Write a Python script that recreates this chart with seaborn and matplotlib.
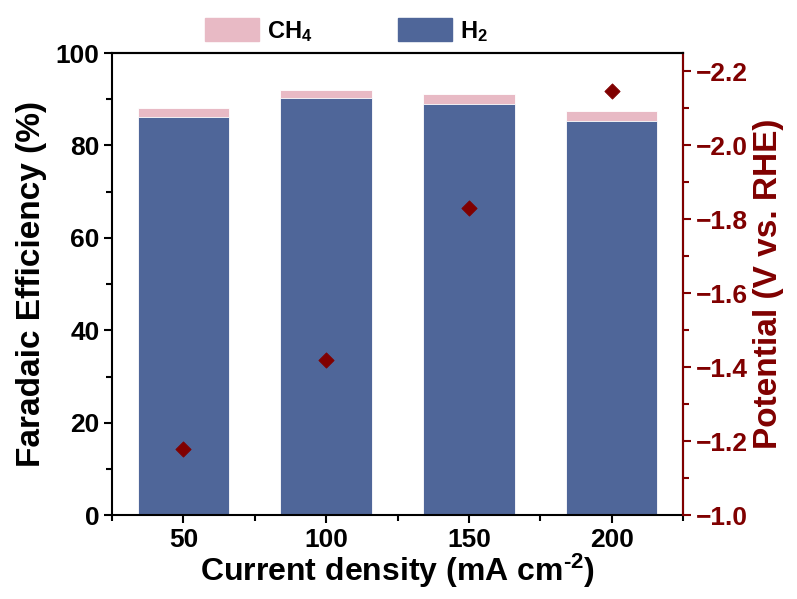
import matplotlib
matplotlib.use("Agg")
import matplotlib.pyplot as plt
from matplotlib.patches import Patch
from matplotlib.ticker import MultipleLocator, FuncFormatter
import seaborn as sns
import pandas as pd

# Current density (mA cm^-2)
current_density = [50, 100, 150, 200]
# Faradaic efficiency (%)
fe_h2 = [86.1, 90.3, 89.0, 85.2]
fe_ch4 = [2.0, 1.7, 2.1, 2.2]
# Applied potential (V vs. RHE)
potential = [-1.18, -1.42, -1.83, -2.146]

blue = "#4F6699"
pink = "#E8BAC5"
dark_red = "#800000"

sns.set_theme(style="ticks")
plt.rcParams["font.family"] = ["Liberation Sans", "DejaVu Sans"]
plt.rcParams["font.weight"] = "bold"
plt.rcParams["axes.labelweight"] = "bold"
plt.rcParams["mathtext.fontset"] = "custom"
plt.rcParams["mathtext.rm"] = "Liberation Sans:bold"
plt.rcParams["mathtext.bf"] = "Liberation Sans:bold"
plt.rcParams["mathtext.default"] = "bf"
plt.rcParams["text.color"] = "black"
plt.rcParams["axes.labelcolor"] = "black"
plt.rcParams["xtick.color"] = "black"
plt.rcParams["ytick.color"] = "black"

df = pd.DataFrame({
    "j": current_density,
    "H2": fe_h2,
    "total": [h + c for h, c in zip(fe_h2, fe_ch4)],
    "E": potential,
})

fig = plt.figure(figsize=(7.97, 5.99), dpi=100)
ax = fig.add_axes([0.1405, 0.140, 0.7165, 0.7715])

sns.barplot(data=df, x="j", y="total", native_scale=True, width=0.64,
            color=pink, saturation=1, edgecolor="white", linewidth=0.6, ax=ax)
sns.barplot(data=df, x="j", y="H2", native_scale=True, width=0.64,
            color=blue, saturation=1, edgecolor="white", linewidth=0.6, ax=ax)

ax.set_xlim(25, 225)
ax.set_ylim(0, 100)
ax.xaxis.set_major_locator(MultipleLocator(50))
ax.xaxis.set_minor_locator(MultipleLocator(25))
ax.yaxis.set_major_locator(MultipleLocator(20))
ax.yaxis.set_minor_locator(MultipleLocator(10))
ax.set_xlabel("Current density (mA cm$^{\\text{-}2}$)", fontsize=23, labelpad=0)
ax.set_ylabel("Faradaic Efficiency (%)", fontsize=24, labelpad=6)
ax.tick_params(axis="both", which="major", direction="out", length=6, width=1.5,
               labelsize=19, pad=3, colors="black")
ax.tick_params(axis="both", which="minor", direction="out", length=4, width=1.5,
               colors="black")
for lbl in ax.get_xticklabels() + ax.get_yticklabels():
    lbl.set_fontweight("bold")
for s in ax.spines.values():
    s.set_linewidth(1.5)
    s.set_color("black")

ax2 = ax.twinx()
sns.scatterplot(data=df, x="j", y="E", marker="D", s=60, color=dark_red,
                edgecolor=dark_red, ax=ax2, zorder=5)
ax2.set_ylim(-1.0, -2.25)
ax2.yaxis.set_major_locator(MultipleLocator(0.2))
ax2.yaxis.set_minor_locator(MultipleLocator(0.1))
ax2.set_ylabel("Potential (V vs. RHE)", fontsize=24, color=dark_red, labelpad=4)
ax2.tick_params(axis="y", which="major", direction="out", length=6, width=1.5,
                labelsize=19, colors=dark_red, pad=3)
ax2.tick_params(axis="y", which="minor", direction="out", length=4, width=1.5,
                colors=dark_red)
ax2.yaxis.set_major_formatter(FuncFormatter(lambda v, p: f"\u2212{abs(v):.1f}"))
for lbl in ax2.get_yticklabels():
    lbl.set_fontweight("bold")
for s in ax2.spines.values():
    s.set_linewidth(1.5)
ax2.spines["right"].set_color(dark_red)
ax2.spines["left"].set_visible(False)
ax2.spines["top"].set_color("black")
ax2.spines["bottom"].set_visible(False)

handles = [Patch(facecolor=pink, edgecolor=pink, label="CH$_4$"),
           Patch(facecolor=blue, edgecolor=blue, label="H$_2$")]
fig.legend(handles=handles, loc="upper left", bbox_to_anchor=(0.23, 1.005),
           ncol=2, frameon=False, handlelength=2.3,
           handleheight=1.1, columnspacing=3.6, handletextpad=0.35,
           prop={"weight": "bold", "size": 17})

fig.savefig("out.png", dpi=100)
